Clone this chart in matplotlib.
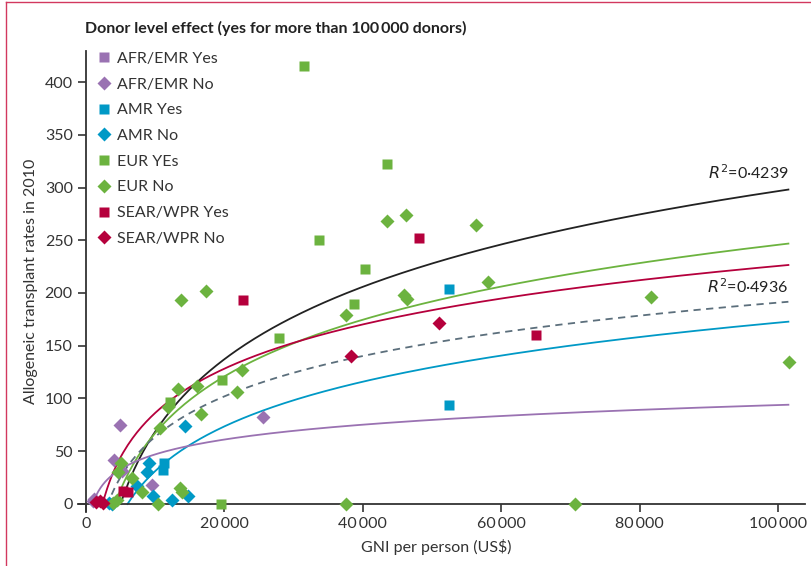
import matplotlib
matplotlib.use("Agg")
import matplotlib.pyplot as plt
from matplotlib.lines import Line2D
from matplotlib.ticker import FuncFormatter
import numpy as np

plt.rcParams['font.family'] = ['Lato', 'DejaVu Sans']

# groups: label, marker, colour
group_labels = ["AFR/EMR Yes", "AFR/EMR No", "AMR Yes", "AMR No",
                "EUR YEs", "EUR No", "SEAR/WPR Yes", "SEAR/WPR No"]
group_markers = ["s", "D", "s", "D", "s", "D", "s", "D"]
group_colors = ["#9a72b2", "#9a72b2", "#0099c6", "#0099c6",
                "#6cb33f", "#6cb33f", "#b5003c", "#b5003c"]

# GNI per person (US$) and allogeneic transplant rate, by group
afr_yes_x = []
afr_yes_y = []
afr_no_x = [25580, 4870, 4050, 5250, 9580, 1160, 1000]
afr_no_y = [82, 75, 42, 31, 18, 5, 3]
amr_yes_x = [52400, 52500, 11270, 11170]
amr_yes_y = [94, 204, 39, 32]
amr_no_x = [14350, 9150, 8770, 7420, 9640, 12380, 14790, 3300, 3700]
amr_no_y = [74, 39, 30, 17, 8, 4, 8, 1, 0]
eur_yes_x = [31550, 43540, 33720, 40360, 38770, 27940, 19700, 12140, 19500]
eur_yes_y = [415, 322, 250, 223, 190, 157, 118, 97, 0]
eur_no_x = [13730, 17340, 13340, 11800, 15990, 22500, 21870, 16620, 10690,
            5010, 4570, 6600, 8030, 13580, 13830, 10450, 3900, 4500,
            37570, 70700, 37530, 45900, 46400, 43500, 46300, 56400, 58100,
            81650, 101600]
eur_no_y = [193, 202, 109, 92, 112, 127, 106, 85, 72,
            39, 30, 25, 11, 15, 11, 0, 1, 4,
            0, 0, 179, 198, 194, 268, 274, 264, 210,
            196, 135]
sear_yes_x = [22740, 48100, 65070, 5400, 6100]
sear_yes_y = [193, 252, 160, 12, 11]
sear_no_x = [51060, 38250, 1440, 2000, 2500]
sear_no_y = [172, 140, 2, 3, 1]

group_x = [afr_yes_x, afr_no_x, amr_yes_x, amr_no_x,
           eur_yes_x, eur_no_x, sear_yes_x, sear_no_x]
group_y = [afr_yes_y, afr_no_y, amr_yes_y, amr_no_y,
           eur_yes_y, eur_no_y, sear_yes_y, sear_no_y]

# logarithmic trend lines: y = a * ln(x / x0), drawn from x_start to x_end
fit_a = [99.0, 77.5, 60.5, 61.1, 20.3, 55.2]
fit_x0 = [5000, 4200, 2400, 6000, 986, 3150]
fit_start = [5000, 4200, 2400, 6000, 1100, 3700]
fit_end = 101500
fit_colors = ["#222222", "#6cb33f", "#b5003c", "#0099c6", "#9a72b2", "#5c6f7c"]
fit_styles = ["-", "-", "-", "-", "-", (0, (4, 3))]

r2_labels = ["$R^2$=0·4239", "$R^2$=0·4936"]
r2_y = [300, 192]

fig = plt.figure(figsize=(8.11, 5.66), dpi=100)
ax = fig.add_axes([78 / 811, 1 - 512 / 566, (805 - 78) / 811, (512 - 51) / 566])

for a, x0, xs, c, ls in zip(fit_a, fit_x0, fit_start, fit_colors, fit_styles):
    xx = np.linspace(xs, fit_end, 300)
    ax.plot(xx, a * np.log(xx / x0), color=c, lw=1.3, ls=ls, zorder=2)

for xs, ys, m, c, lab in zip(group_x, group_y, group_markers, group_colors, group_labels):
    ms = 6.5 if m == "s" else 7.5
    ax.plot(xs, ys, ls="none", marker=m, ms=ms, color=c, mec="none",
            label=lab, zorder=3)

for lab, yy in zip(r2_labels, r2_y):
    ax.text(fit_end, yy + 5, lab, ha="right", va="bottom", fontsize=11.5, color="#222222")

ax.set_xlim(-1156, 103900)
ax.set_ylim(-7.6, 429.4)
ax.spines['left'].set_position(('data', 0))
ax.spines['bottom'].set_position(('data', 0))
ax.spines['right'].set_visible(False)
ax.spines['top'].set_visible(False)
for s in ['left', 'bottom']:
    ax.spines[s].set_linewidth(1.3)
    ax.spines[s].set_color('#333333')

ax.set_xticks([0, 20000, 40000, 60000, 80000, 100000])
ax.set_yticks([0, 50, 100, 150, 200, 250, 300, 350, 400])
ax.xaxis.set_major_formatter(FuncFormatter(lambda v, p: f"{int(v):,}".replace(",", "\u2009")))
ax.tick_params(direction='out', length=6, width=1.2, color='#333333',
               labelsize=11.5, labelcolor='#333333')

ax.set_xlabel("GNI per person (US$)", fontsize=11.5, color='#333333')
ax.set_ylabel("Allogeneic transplant rates in 2010", fontsize=11.5, color='#333333')
ax.xaxis.set_label_coords((436 - 78) / 727, -(539 - 512) / 461)
ax.yaxis.set_label_coords((38 - 78) / 727, 0.5)

ax.legend(loc="upper left", bbox_to_anchor=(12 / 727, 1.012), frameon=False,
          fontsize=11.5, handletextpad=0.3, labelspacing=0.72, handlelength=1.0,
          borderaxespad=0.0, labelcolor='#333333')

fig.text(85 / 811, 1 - 28 / 566, "Donor level effect (yes for more than 100\u2009000 donors)",
         fontsize=11.5, fontweight="bold", color="#222222", va="center", ha="left")

# thin frame lines at top and left of the figure
fig.add_artist(Line2D([6 / 811, 6 / 811], [0, 1 - 2 / 566], transform=fig.transFigure,
                      color="#d2385f", lw=1.0))
fig.add_artist(Line2D([6 / 811, 1], [1 - 2 / 566, 1 - 2 / 566], transform=fig.transFigure,
                      color="#d2385f", lw=1.0))

fig.savefig("out.png", dpi=100)
